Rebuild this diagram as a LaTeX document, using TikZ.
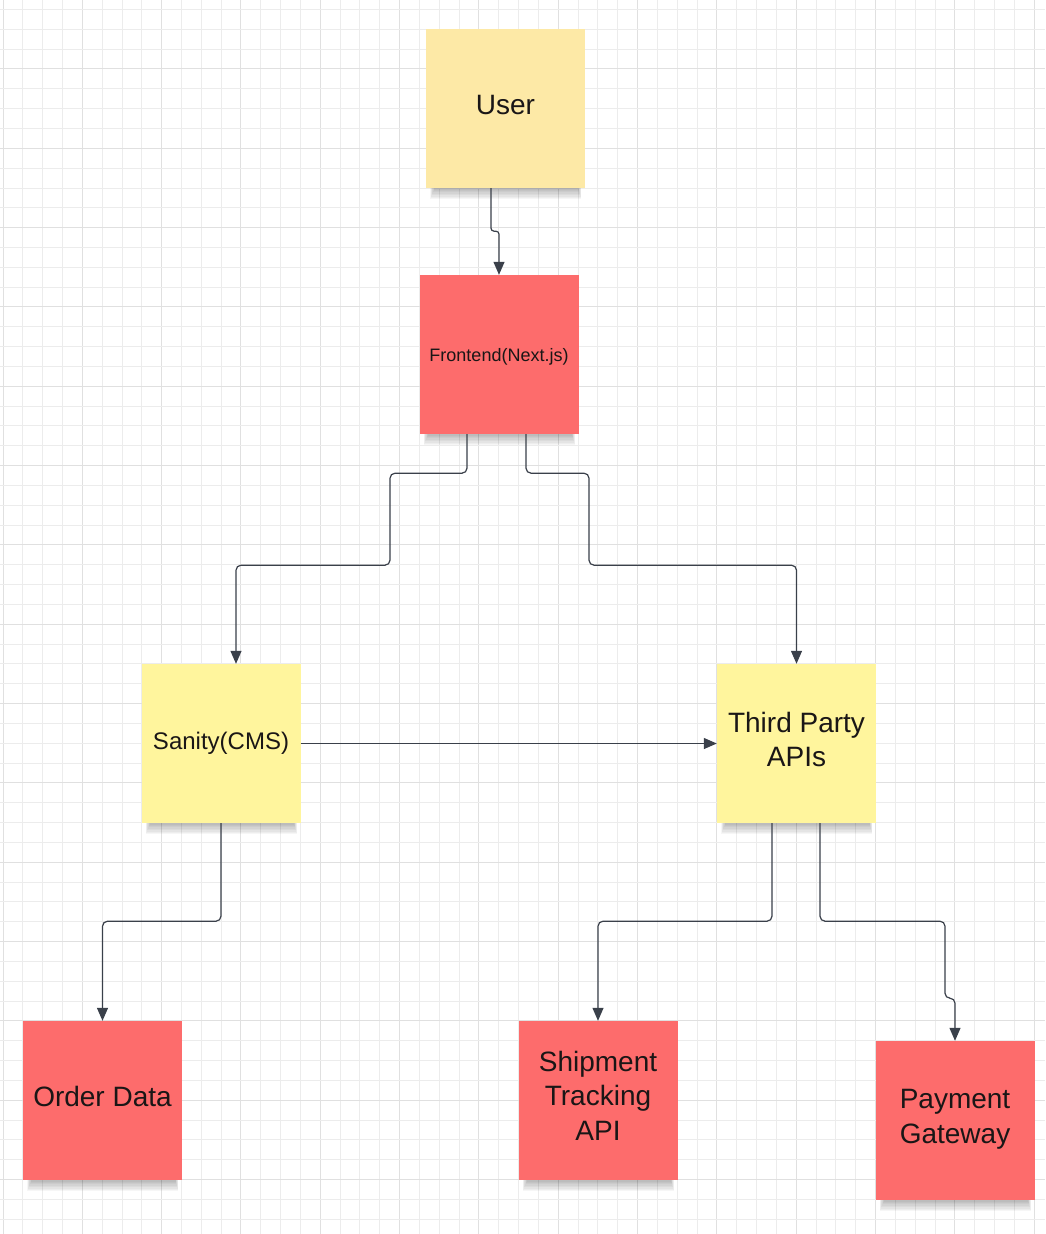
\documentclass[tikz,border=0pt]{standalone}
\usepackage{fontspec}
\setmainfont{Liberation Sans}
\usetikzlibrary{arrows.meta}
\pgfdeclarelayer{gridlayer}
\pgfdeclarelayer{shadowlayer}
\pgfsetlayers{gridlayer,shadowlayer,main}
\definecolor{sticky1}{RGB}{253,233,166}
\definecolor{sticky2}{RGB}{255,245,157}
\definecolor{stickyred}{RGB}{253,108,108}
\definecolor{linec}{RGB}{58,64,74}
\definecolor{gridminor}{RGB}{236,236,236}
\definecolor{gridmajor}{RGB}{224,224,224}
\definecolor{txt}{RGB}{26,22,22}
\tikzset{
  x=1pt, y=-1pt,
  sticky/.style={rectangle, minimum width=159pt, minimum height=159pt, inner sep=0pt,
    align=center, text=txt, font=\fontsize{28}{34.5}\selectfont, text depth=8pt},
  conn/.style={draw=linec, line width=1.2pt, rounded corners=5pt,
    -{Triangle[length=13pt,width=11pt]}},
}
\newcommand{\mkshadow}[1]{%
  \foreach \i in {1,...,8}{%
    \fill[black, opacity=0.035]
      ([xshift={(9-\i*0.6)*1pt}, yshift=8pt]#1.south west)
      rectangle ([xshift={(-7+\i*0.4)*1pt}, yshift={-\i*1.4pt}]#1.south east);
  }%
}
\begin{document}
\begin{tikzpicture}
\useasboundingbox (0,0) rectangle (1045,1234);
\begin{pgfonlayer}{gridlayer}
  \fill[white] (0,0) rectangle (1045,1234);
  \foreach \k in {0,...,52}{
    \pgfmathsetmacro{\xx}{3+\k*19.83}
    \pgfmathtruncatemacro{\m}{mod(\k,4)}
    \ifnum\m=0
      \draw[gridmajor, line width=1pt] (\xx,0) -- (\xx,1234);
    \else
      \draw[gridminor, line width=0.9pt] (\xx,0) -- (\xx,1234);
    \fi
  }
  \foreach \k in {0,...,62}{
    \pgfmathsetmacro{\yy}{9.5+\k*19.83}
    \pgfmathtruncatemacro{\m}{mod(\k,4)}
    \ifnum\m=3
      \draw[gridmajor, line width=1pt] (0,\yy) -- (1045,\yy);
    \else
      \draw[gridminor, line width=0.9pt] (0,\yy) -- (1045,\yy);
    \fi
  }
\end{pgfonlayer}

\node[sticky, fill=sticky1] (user) at (505.5,108.5) {User};
\node[sticky, fill=stickyred, font=\fontsize{18}{22}\selectfont, text depth=0pt] (fe) at (499,354.5) {Frontend(Next.js)};
\node[sticky, fill=sticky2, font=\fontsize{24}{29}\selectfont, text depth=] (cms) at (221,743.5) {Sanity(CMS)};
\node[sticky, fill=sticky2] (tpa) at (796.5,743.5) {Third Party\\APIs};
\node[sticky, fill=stickyred] (order) at (102.5,1100.5) {Order Data};
\node[sticky, fill=stickyred, text depth=10pt] (ship) at (598,1100.5) {Shipment\\Tracking\\API};
\node[sticky, fill=stickyred] (pay) at (955,1120.5) {Payment\\Gateway};

\begin{pgfonlayer}{shadowlayer}
  \mkshadow{user}
  \mkshadow{fe}
  \mkshadow{cms}
  \mkshadow{tpa}
  \mkshadow{order}
  \mkshadow{ship}
  \mkshadow{pay}
\end{pgfonlayer}

\draw[conn, rounded corners=3pt] ([xshift=-14.5pt]user.south) -- ++(0,43) -- ++(8,0) -- (fe.north);
\draw[conn] ([xshift=-32pt]fe.south) -- ++(0,39) -- ++(-77,0) -- ++(0,92) -| ([xshift=15pt]cms.north);
\draw[conn] ([xshift=27pt]fe.south) -- ++(0,39) -- ++(63,0) -- ++(0,92) -| (tpa.north);
\draw[conn] (cms.east) -- (tpa.west);
\draw[conn] (cms.south) -- ++(0,98) -| (order.north);
\draw[conn] ([xshift=-24.5pt]tpa.south) -- ++(0,98) -| (ship.north);
\draw[conn] ([xshift=23.5pt]tpa.south) -- ++(0,98) -- ++(125,0) -- ++(0,77) -- ++(10,0) -- (pay.north);
\end{tikzpicture}
\end{document}
